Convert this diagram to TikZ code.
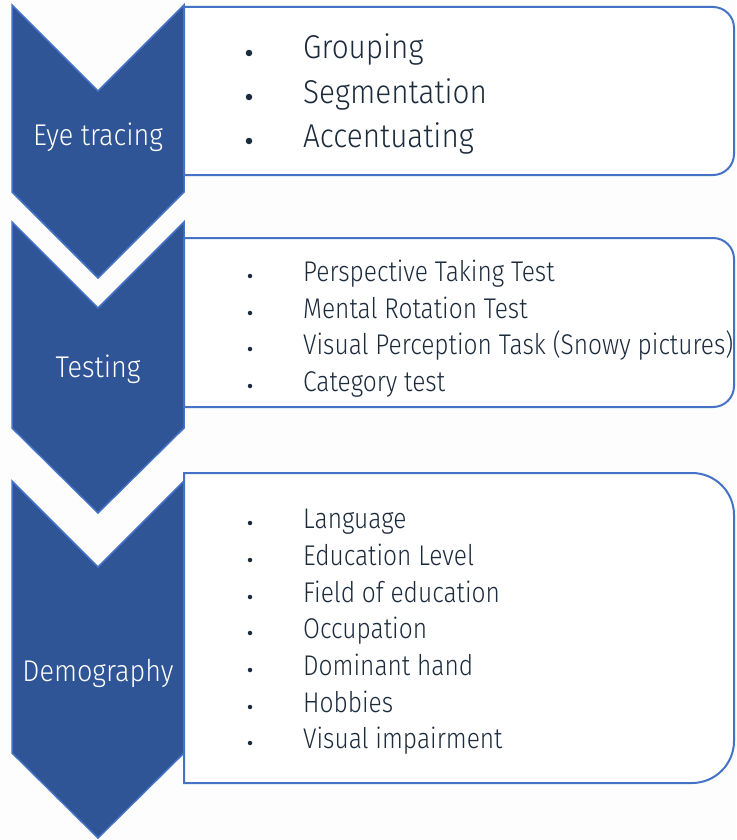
\documentclass[tikz,border=0pt]{standalone}
\usepackage{fontspec}
\setmainfont{Fira Sans Light}[FakeStretch=0.9]
\newfontfamily\itemfont{Fira Sans Light}[FakeStretch=0.86]
\definecolor{chevfill}{HTML}{2F5597}
\definecolor{chevline}{HTML}{4472C4}
\definecolor{txt}{HTML}{1C2B3C}
\definecolor{bg}{HTML}{FDFDFD}
\tikzset{
  chev/.style={fill=chevfill, draw=chevline, line width=1.5pt, line join=miter},
  panel/.style={fill=white, draw=chevline, line width=2pt},
  lab/.style={text=white, font=\fontsize{30}{36}\selectfont, anchor=base, inner sep=0pt},
  itemA/.style={text=txt, font=\fontsize{33}{40}\selectfont, anchor=base west, inner sep=0pt},
  itemB/.style={text=txt, font=\itemfont\fontsize{28.5}{34}\selectfont, anchor=base west, inner sep=0pt},
  dotA/.style={circle, fill=txt, inner sep=0pt, minimum size=6.5pt},
  dotB/.style={circle, fill=txt, inner sep=0pt, minimum size=4.5pt},
}
\begin{document}
\begin{tikzpicture}[x=1pt,y=-1pt]
\fill[bg] (0,0) rectangle (736,840);
\useasboundingbox (0,0) rectangle (736,840);
% chevrons
\draw[chev] (12,5) -- (98,91) -- (184,5) -- (184,192) -- (98,278) -- (12,192) -- cycle;
\draw[chev] (12,222) -- (98,308) -- (184,222) -- (184,428) -- (98,513) -- (12,428) -- cycle;
\draw[chev] (12,481) -- (98,567) -- (184,481) -- (184,753) -- (98,838) -- (12,753) -- cycle;
% panels
\draw[panel] (184,7) -- (713,7) arc[start angle=-90,end angle=0,radius=21] -- (734,154) arc[start angle=0,end angle=90,radius=21] -- (184,175) -- cycle;
\draw[panel] (184,238) -- (713,238) arc[start angle=-90,end angle=0,radius=21] -- (734,386) arc[start angle=0,end angle=90,radius=21] -- (184,407) -- cycle;
\draw[panel] (184,473) -- (692,473) arc[start angle=-90,end angle=0,radius=42] -- (734,741) arc[start angle=0,end angle=90,radius=42] -- (184,783) -- cycle;
% labels
\node[lab] (l1) at (98,146) {Eye tracing};
\node[lab] (l2) at (98,377) {Testing};
\node[lab] (l3) at (98,681) {Demography};
% box 1
\node[dotA] (d11) at (249,53) {};
\node[dotA] (d12) at (249,97) {};
\node[dotA] (d13) at (249,141) {};
\node[itemA] (t11) at (303,59) {Grouping};
\node[itemA] (t12) at (303,103) {Segmentation};
\node[itemA] (t13) at (303,147) {Accentuating};
% box 2
\node[dotB] (d21) at (250,276) {};
\node[dotB] (d22) at (250,313) {};
\node[dotB] (d23) at (250,349) {};
\node[dotB] (d24) at (250,386) {};
\node[itemB] (t21) at (303,281) {Perspective Taking Test};
\node[itemB] (t22) at (303,318) {Mental Rotation Test};
\node[itemB] (t23) at (303,354) {Visual Perception Task (Snowy pictures)};
\node[itemB] (t24) at (303,391) {Category test};
% box 3
\node[dotB] (d31) at (250,523) {};
\node[dotB] (d32) at (250,560) {};
\node[dotB] (d33) at (250,597) {};
\node[dotB] (d34) at (250,633) {};
\node[dotB] (d35) at (250,670) {};
\node[dotB] (d36) at (250,707) {};
\node[dotB] (d37) at (250,743) {};
\node[itemB] (t31) at (303,528) {Language};
\node[itemB] (t32) at (303,565) {Education Level};
\node[itemB] (t33) at (303,602) {Field of education};
\node[itemB] (t34) at (303,638) {Occupation};
\node[itemB] (t35) at (303,675) {Dominant hand};
\node[itemB] (t36) at (303,712) {Hobbies};
\node[itemB] (t37) at (303,748) {Visual impairment};
\end{tikzpicture}
\end{document}
